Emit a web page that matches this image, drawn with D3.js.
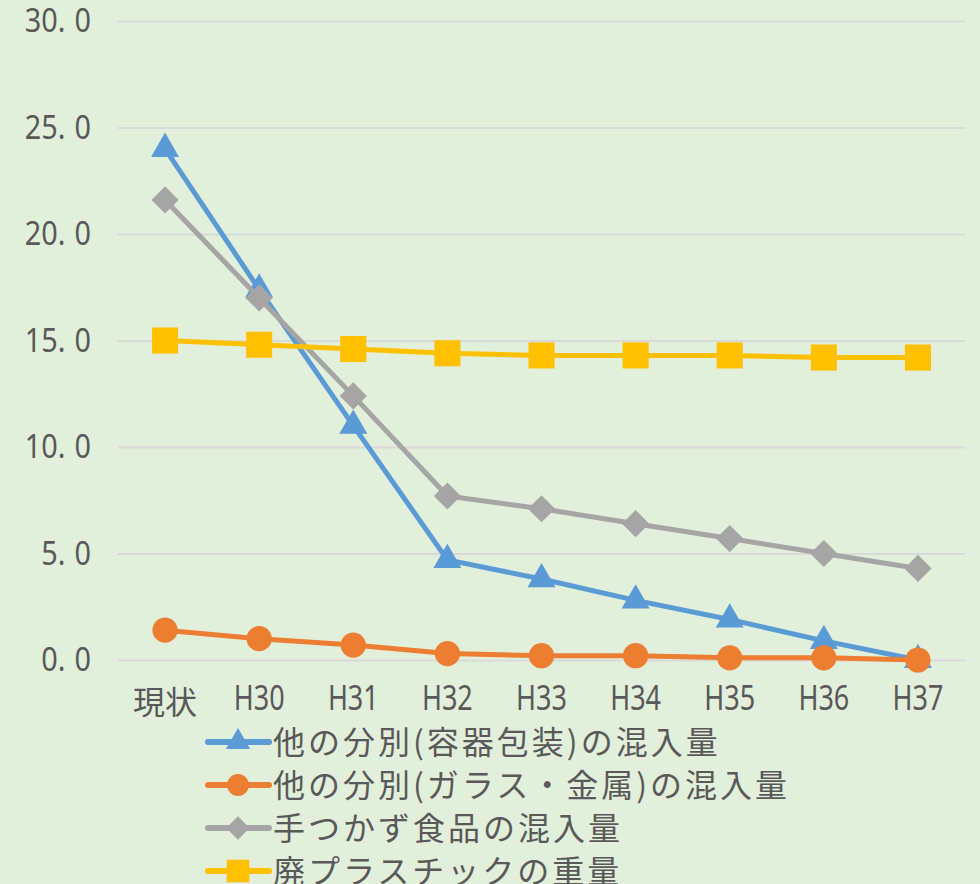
<!DOCTYPE html>
<html>
<head>
<meta charset="utf-8">
<script src="https://cdn.jsdelivr.net/npm/d3@7"></script>
<style>
  html, body { margin: 0; padding: 0; background: #E2EFDA; }
  svg { display: block; }
  text { fill: #595959; }
</style>
</head>
<body>
<svg></svg>
<script>
const categories = ['現状', 'H30', 'H31', 'H32', 'H33', 'H34', 'H35', 'H36', 'H37'];
const yTicks = [0, 5, 10, 15, 20, 25, 30];

const seriesNames = [
    '他の分別(容器包装)の混入量',
    '他の分別(ガラス・金属)の混入量',
    '手つかず食品の混入量',
    '廃プラスチックの重量'
];
const packagingValues = [24.0, 17.4, 11.0, 4.7, 3.8, 2.8, 1.9, 0.9, 0.0];
const glassMetalValues = [1.4, 1.0, 0.7, 0.3, 0.2, 0.2, 0.1, 0.1, 0.0];
const foodValues = [21.6, 17.0, 12.4, 7.7, 7.1, 6.4, 5.7, 5.0, 4.3];
const plasticValues = [15.0, 14.8, 14.6, 14.4, 14.3, 14.3, 14.3, 14.2, 14.2];

const width = 980;
const height = 884;
const svg = d3.select('svg')
    .attr('width', width)
    .attr('height', height);

const colors = ['#5B9BD5', '#ED7D31', '#A5A5A5', '#FFC000'];
const symbols = [
    {type: d3.symbolTriangle, size: 340, rotate: 0},
    {type: d3.symbolCircle, size: 500, rotate: 0},
    {type: d3.symbolSquare, size: 370, rotate: 45},
    {type: d3.symbolSquare, size: 680, rotate: 0}
];
const allValues = [packagingValues, glassMetalValues, foodValues, plasticValues];
const series = seriesNames.map((name, i) => ({
    name,
    color: colors[i],
    symbol: symbols[i],
    values: allValues[i].map((v, j) => ({cat: categories[j], v}))
}));

const xScale = d3.scaleBand()
    .domain(categories)
    .range([118, 965]);

const yScale = d3.scaleLinear()
    .domain([0, 30])
    .range([660, 21]);

// gridlines
const yAxis = d3.axisLeft(yScale)
    .tickValues(yTicks)
    .tickSize(-(965 - 118))
    .tickFormat('');
svg.append('g')
    .attr('transform', 'translate(118,0)')
    .call(yAxis)
    .call(g => g.select('.domain').remove())
    .call(g => g.selectAll('line').attr('stroke', '#D9D9D9').attr('stroke-width', 2));

// y labels, with the wide gap after the point like the original font
const fmt = d3.format('.1f');
const yLabels = svg.append('g').selectAll('text')
    .data(yTicks)
    .enter().append('text')
    .attr('transform', d => `translate(91,${yScale(d) + 11}) scale(0.9,1)`)
    .attr('text-anchor', 'end')
    .style('font-family', '"Noto Sans", sans-serif')
    .style('font-size', '32px');
yLabels.append('tspan').text(d => fmt(d).split('.')[0] + '.');
yLabels.append('tspan').attr('dx', 10).text(d => fmt(d).split('.')[1]);

// x labels
svg.append('g').selectAll('text')
    .data(categories)
    .enter().append('text')
    .attr('transform', d => {
        const x = xScale(d) + xScale.bandwidth() / 2;
        return /^H/.test(d) ? `translate(${x},710) scale(0.77,1)` : `translate(${x},714)`;
    })
    .attr('text-anchor', 'middle')
    .style('font-family', d => /^H/.test(d) ? '"Noto Sans", sans-serif' : '"Noto Sans CJK JP", sans-serif')
    .style('font-size', d => /^H/.test(d) ? '35px' : '32px')
    .text(d => d);

const line = d3.line()
    .x(d => xScale(d.cat) + xScale.bandwidth() / 2)
    .y(d => yScale(d.v));

series.forEach(s => {
    const g = svg.append('g');
    g.append('path')
        .attr('d', line(s.values))
        .attr('fill', 'none')
        .attr('stroke', s.color)
        .attr('stroke-width', 5)
        .attr('stroke-linejoin', 'round');
    g.selectAll('path.marker')
        .data(s.values)
        .enter().append('path')
        .attr('class', 'marker')
        .attr('d', d3.symbol().type(s.symbol.type).size(s.symbol.size))
        .attr('fill', s.color)
        .attr('transform', d => `translate(${xScale(d.cat) + xScale.bandwidth() / 2},${yScale(d.v)}) rotate(${s.symbol.rotate})`);
});

// legend
const legend = svg.append('g').attr('transform', 'translate(208,742)');
const rows = legend.selectAll('g')
    .data(series)
    .enter().append('g')
    .attr('transform', (d, i) => `translate(0,${i * 43})`);
rows.append('line')
    .attr('x1', 0).attr('x2', 61)
    .attr('stroke', d => d.color)
    .attr('stroke-width', 6)
    .attr('stroke-linecap', 'round');
rows.append('path')
    .attr('d', d => d3.symbol().type(d.symbol.type).size(d.symbol.size * 0.75)())
    .attr('fill', d => d.color)
    .attr('transform', d => `translate(30,0) rotate(${d.symbol.rotate})`);
rows.append('text')
    .attr('x', 65)
    .attr('y', 12)
    .style('font-family', '"Noto Sans CJK JP", sans-serif')
    .style('font-size', '32px')
    .style('letter-spacing', '3px')
    .text(d => d.name);
</script>
</body>
</html>
